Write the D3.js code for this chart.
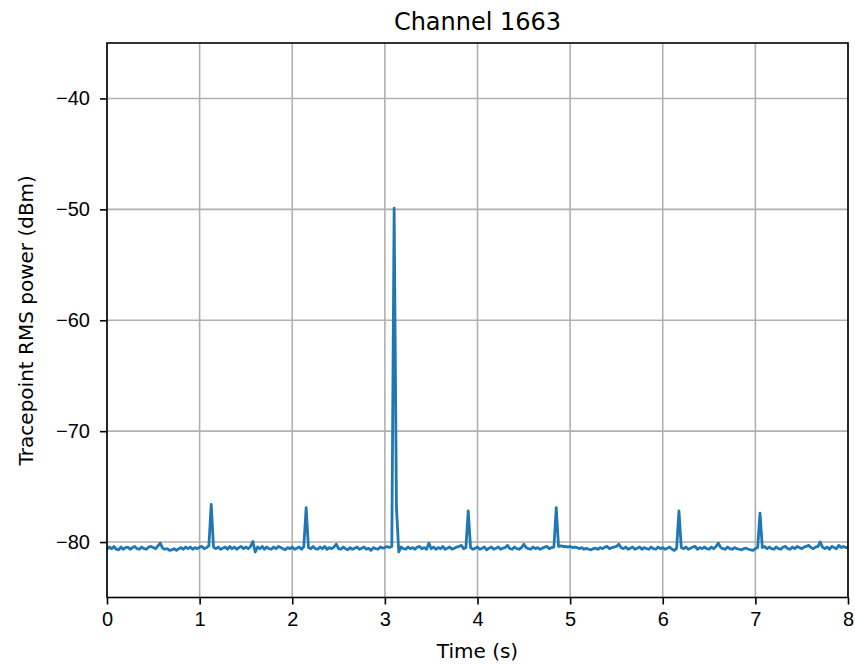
<!DOCTYPE html>
<meta charset="utf-8">
<head>
  <title>Channel 1663</title>
</head>
<style>
  body { margin: 0; background: #fff; }
  svg { display: block; font-family: "DejaVu Sans", sans-serif; }
  .grid line { stroke: #b0b0b0; stroke-width: 1.6px; }
  .axis path, .axis line { stroke: #000; stroke-width: 1.6px; }
  .axis text { font-size: 20px; fill: #000; }
  .trace { fill: none; stroke: #1f77b4; stroke-width: 2.8px; stroke-linejoin: round; }
</style>
<body>
<script src="https://cdn.jsdelivr.net/npm/d3@7"></script>
<script>
// sampling interval of the trace (s)
var sampleStep = 0.025;

// tracepoint RMS power (dBm), one value per sample
var power = [
  -80.65,-80.45,-80.6,-80.4,-80.65,-80.7,-80.45,-80.65,-80.5,-80.45,-80.65,-80.5,-80.4,-80.6,-80.65,-80.45,-80.6,-80.65,-80.45,-80.4,
  -80.5,-80.6,-80.35,-80.1,-80.55,-80.65,-80.6,-80.75,-80.7,-80.6,-80.75,-80.6,-80.5,-80.65,-80.45,-80.6,-80.45,-80.65,-80.5,-80.6,
  -80.45,-80.4,-80.6,-80.5,-80.35,-76.6,-80.45,-80.6,-80.45,-80.65,-80.55,-80.45,-80.65,-80.4,-80.6,-80.45,-80.65,-80.5,-80.4,-80.6,
  -80.45,-80.6,-80.4,-79.95,-80.9,-80.45,-80.6,-80.4,-80.65,-80.45,-80.6,-80.65,-80.45,-80.6,-80.4,-80.5,-80.6,-80.7,-80.5,-80.6,
  -80.45,-80.65,-80.55,-80.45,-80.65,-80.4,-76.9,-80.5,-80.6,-80.4,-80.6,-80.65,-80.45,-80.6,-80.4,-80.65,-80.5,-80.6,-80.45,-80.2,
  -80.6,-80.65,-80.45,-80.6,-80.7,-80.5,-80.65,-80.55,-80.45,-80.65,-80.55,-80.45,-80.65,-80.55,-80.75,-80.5,-80.6,-80.65,-80.45,-80.55,
  -80.5,-80.4,-80.5,-80.4,-49.9,-76.9,-80.9,-80.45,-80.6,-80.65,-80.45,-80.6,-80.5,-80.65,-80.45,-80.4,-80.6,-80.5,-80.65,-80.1,
  -80.6,-80.45,-80.65,-80.5,-80.6,-80.4,-80.65,-80.55,-80.45,-80.65,-80.55,-80.45,-80.4,-80.3,-80.6,-80.5,-77.2,-80.5,-80.65,-80.55,
  -80.45,-80.65,-80.55,-80.45,-80.7,-80.55,-80.45,-80.65,-80.55,-80.45,-80.65,-80.55,-80.5,-80.3,-80.6,-80.65,-80.45,-80.6,-80.65,-80.5,
  -80.2,-80.5,-80.6,-80.65,-80.45,-80.6,-80.5,-80.65,-80.55,-80.45,-80.4,-80.6,-80.5,-80.45,-76.9,-80.4,-80.35,-80.4,-80.4,-80.45,
  -80.4,-80.5,-80.45,-80.5,-80.6,-80.5,-80.65,-80.55,-80.65,-80.7,-80.6,-80.55,-80.65,-80.5,-80.6,-80.45,-80.4,-80.6,-80.5,-80.45,
  -80.4,-80.2,-80.5,-80.6,-80.45,-80.65,-80.55,-80.45,-80.65,-80.55,-80.45,-80.65,-80.5,-80.6,-80.65,-80.45,-80.6,-80.65,-80.45,-80.6,
  -80.5,-80.65,-80.55,-80.45,-80.65,-80.75,-80.55,-77.2,-80.5,-80.6,-80.45,-80.65,-80.55,-80.45,-80.4,-80.65,-80.5,-80.6,-80.45,-80.6,
  -80.65,-80.45,-80.6,-80.4,-80.1,-80.5,-80.6,-80.65,-80.45,-80.6,-80.65,-80.5,-80.6,-80.65,-80.7,-80.6,-80.55,-80.65,-80.7,-80.75,
  -80.6,-80.5,-77.4,-80.5,-80.4,-80.6,-80.45,-80.6,-80.65,-80.45,-80.6,-80.65,-80.45,-80.4,-80.6,-80.65,-80.45,-80.6,-80.4,-80.5,
  -80.6,-80.45,-80.4,-80.3,-80.5,-80.6,-80.45,-80.4,-80.0,-80.45,-80.6,-80.45,-80.65,-80.4,-80.5,-80.6,-80.3,-80.5,-80.4,-80.5,
  -80.45
];

var xTicks = [0, 1, 2, 3, 4, 5, 6, 7, 8];
var yTicks = [-80, -70, -60, -50, -40];

var margin = {top: 43, right: 7, bottom: 68.5, left: 107},
    W = 855, H = 666,
    width = W - margin.left - margin.right,
    height = H - margin.top - margin.bottom;

var x = d3.scaleLinear().domain([0, 8]).range([0, width]);
var y = d3.scaleLinear().domain([-85, -35]).range([height, 0]);

var svg = d3.select("body").append("svg")
    .attr("width", W)
    .attr("height", H);

var g = svg.append("g")
    .attr("transform", "translate(" + margin.left + "," + margin.top + ")");

// grid
var grid = g.append("g").attr("class", "grid");
grid.selectAll(".gx").data(xTicks).enter().append("line")
    .attr("x1", function(d) { return x(d); })
    .attr("x2", function(d) { return x(d); })
    .attr("y1", 0).attr("y2", height);
grid.selectAll(".gy").data(yTicks).enter().append("line")
    .attr("y1", function(d) { return y(d); })
    .attr("y2", function(d) { return y(d); })
    .attr("x1", 0).attr("x2", width);

// the trace
var line = d3.line()
    .x(function(d, i) { return x(i * sampleStep); })
    .y(function(d) { return y(d); });

g.append("path")
    .datum(power)
    .attr("class", "trace")
    .attr("d", line);

// axes
var minus = function(d) { return String(d).replace("-", "\u2212"); };

g.append("g")
    .attr("class", "axis")
    .attr("transform", "translate(0," + height + ")")
    .call(d3.axisBottom(x).tickValues(xTicks).tickFormat(minus).tickSize(7).tickPadding(7))
    .call(function(s) { s.select(".domain").remove(); });

g.append("g")
    .attr("class", "axis")
    .call(d3.axisLeft(y).tickValues(yTicks).tickFormat(minus).tickSize(7).tickPadding(10))
    .call(function(s) { s.select(".domain").remove(); });

// frame
g.append("rect")
    .attr("width", width).attr("height", height)
    .attr("fill", "none").attr("stroke", "#000").attr("stroke-width", 1.6);

// labels
svg.append("text")
    .attr("x", margin.left + width / 2).attr("y", 30)
    .attr("text-anchor", "middle")
    .style("font-size", "24px")
    .text("Channel 1663");

svg.append("text")
    .attr("x", margin.left + width / 2).attr("y", 658)
    .attr("text-anchor", "middle")
    .style("font-size", "20px")
    .text("Time (s)");

svg.append("text")
    .attr("transform", "translate(33," + (margin.top + height / 2) + ") rotate(-90)")
    .attr("text-anchor", "middle")
    .style("font-size", "20px")
    .text("Tracepoint RMS power (dBm)");
</script>
</body>
</html>
